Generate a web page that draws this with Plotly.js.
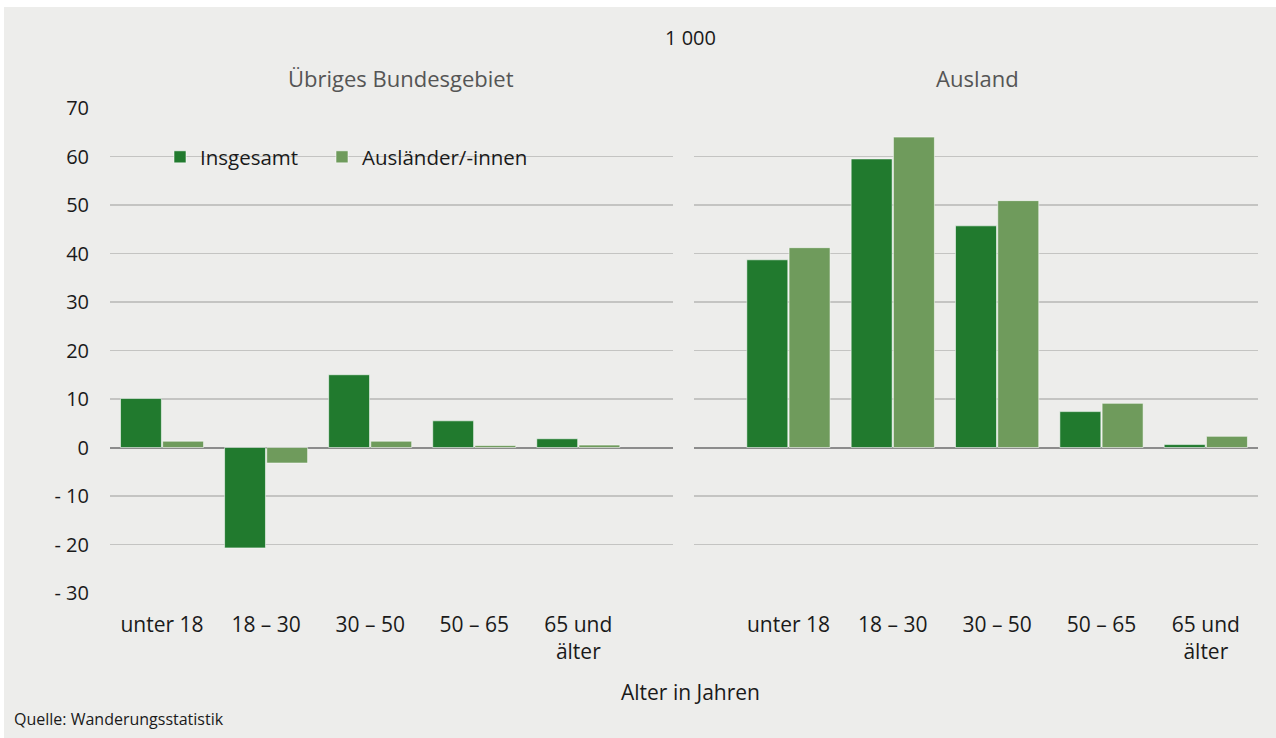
<!DOCTYPE html>
<html>
<head>
<meta charset="utf-8">
<script src="https://cdn.plot.ly/plotly-3.0.1.min.js"></script>
<style>
html,body{margin:0;padding:0;background:#ffffff;}
#chart{position:absolute;left:4px;top:7px;width:1272px;height:731px;}
</style>
</head>
<body>
<div id="chart"></div>
<script>
const categories = ["unter 18", "18 – 30", "30 – 50", "50 – 65", "65 und<br>älter"];
const seriesNames = ["Insgesamt", "Ausländer/-innen"];
const panelTitles = ["Übriges Bundesgebiet", "Ausland"];
const bundesInsgesamt = [10.1, -20.7, 15.0, 5.5, 1.8];
const bundesAuslaender = [1.3, -3.2, 1.3, 0.4, 0.5];
const auslandInsgesamt = [38.7, 59.5, 45.7, 7.4, 0.6];
const auslandAuslaender = [41.2, 64.0, 50.9, 9.1, 2.3];
const yTickVals = [70, 60, 50, 40, 30, 20, 10, 0, -10, -20, -30];
const yTickText = ["70", "60", "50", "40", "30", "20", "10", "0", "- 10", "- 20", "- 30"];
const unitLabel = "1 000";
const xTitle = "Alter in Jahren";
const sourceText = "Quelle: Wanderungsstatistik";

const W = 1272, H = 731, OX = 4, OY = 7;
const px = x => (x - OX) / W;
const py = y => 1 - (y - OY) / H;

const BG = "#ededeb";
const cDark = "#217a2e", cLight = "#6f9b5c";
const FONT = "Open Sans, Noto Sans, sans-serif";
const lineStyle = {color: "rgba(255,255,255,0.55)", width: 1};

const traces = [
  {type: "bar", x: categories, y: bundesInsgesamt, name: seriesNames[0], xaxis: "x", yaxis: "y",
   marker: {color: cDark, line: lineStyle}, showlegend: true, legend: "legend"},
  {type: "bar", x: categories, y: bundesAuslaender, name: seriesNames[1], xaxis: "x", yaxis: "y",
   marker: {color: cLight, line: lineStyle}, showlegend: true, legend: "legend2"},
  {type: "bar", x: categories, y: auslandInsgesamt, name: seriesNames[0], xaxis: "x2", yaxis: "y2",
   marker: {color: cDark, line: lineStyle}, showlegend: false},
  {type: "bar", x: categories, y: auslandAuslaender, name: seriesNames[1], xaxis: "x2", yaxis: "y2",
   marker: {color: cLight, line: lineStyle}, showlegend: false}
];

const yDomain = [py(593), py(108)];
const commonY = {
  range: [-30, 70], tickvals: yTickVals, showgrid: true, gridcolor: "#c4c4c2", gridwidth: 1.5,
  zeroline: true, zerolinecolor: "#8c8c8c", zerolinewidth: 2, showline: false, ticks: "",
  domain: yDomain, fixedrange: true
};
const commonX = {
  type: "category", showgrid: false, showline: false, ticks: "", zeroline: false,
  tickfont: {family: FONT, size: 21, color: "#1a1a1a"}, ticklabelstandoff: 17, fixedrange: true
};
const legendCommon = {
  orientation: "h", xanchor: "left", y: py(157), yanchor: "middle",
  bgcolor: "rgba(0,0,0,0)", font: {family: FONT, size: 20.5, color: "#1a1a1a"},
  itemclick: false, itemdoubleclick: false
};

const layout = {
  width: W, height: H,
  margin: {l: 0, r: 0, t: 0, b: 0, autoexpand: false},
  paper_bgcolor: BG, plot_bgcolor: BG,
  font: {family: FONT, color: "#1a1a1a"},
  barmode: "group", bargap: 0.19, bargroupgap: 0.03,
  showlegend: true,
  legend: Object.assign({}, legendCommon, {x: px(160)}),
  legend2: Object.assign({}, legendCommon, {x: px(322)}),
  xaxis: Object.assign({}, commonX, {domain: [px(110), px(673)], range: [-0.5, 4.91]}),
  xaxis2: Object.assign({}, commonX, {domain: [px(694), px(1258)], range: [-0.905, 4.5]}),
  yaxis: Object.assign({}, commonY, {ticktext: yTickText, showticklabels: true,
    tickfont: {family: FONT, size: 20, color: "#1a1a1a"}, ticklabelstandoff: 20}),
  yaxis2: Object.assign({}, commonY, {anchor: "x2", showticklabels: false}),
  shapes: [
    {type: "rect", xref: "paper", yref: "paper", x0: px(130), x1: px(558), y0: py(170), y1: py(144),
     fillcolor: BG, line: {width: 0}, layer: "between"}
  ],
  annotations: [
    {text: unitLabel, xref: "paper", yref: "paper", x: px(690), y: py(38), xanchor: "center", yanchor: "middle",
     showarrow: false, font: {family: FONT, size: 20, color: "#1a1a1a"}},
    {text: panelTitles[0], xref: "paper", yref: "paper", x: px(401), y: py(78), xanchor: "center", yanchor: "middle",
     showarrow: false, font: {family: FONT, size: 22, color: "#555555"}},
    {text: panelTitles[1], xref: "paper", yref: "paper", x: px(977), y: py(78), xanchor: "center", yanchor: "middle",
     showarrow: false, font: {family: FONT, size: 22, color: "#555555"}},
    {text: xTitle, xref: "paper", yref: "paper", x: px(690), y: py(692), xanchor: "center", yanchor: "middle",
     showarrow: false, font: {family: FONT, size: 21, color: "#1a1a1a"}},
    {text: sourceText, xref: "paper", yref: "paper", x: px(12), y: py(719), xanchor: "left", yanchor: "middle",
     showarrow: false, font: {family: FONT, size: 16, color: "#1a1a1a"}}
  ]
};

Plotly.newPlot("chart", traces, layout, {displayModeBar: false, staticPlot: true});
</script>
</body>
</html>
